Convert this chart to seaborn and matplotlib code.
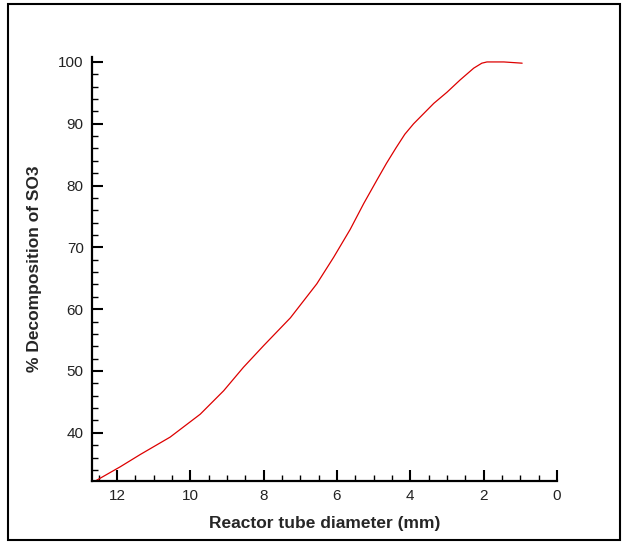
import pandas as pd
import seaborn as sns
import matplotlib.pyplot as plt
from matplotlib.patches import Rectangle
from matplotlib.ticker import MultipleLocator

# values
diameter = [12.59, 11.91, 11.36, 10.55, 9.73, 9.09, 8.55, 8.0, 7.27, 6.55, 6.09,
            5.64, 5.27, 4.91, 4.65, 4.39, 4.15, 3.91, 3.36, 3.0, 2.64, 2.27,
            2.05, 1.91, 1.45, 0.95]
decomposition = [32.2, 34.5, 36.5, 39.3, 43.0, 46.8, 50.6, 54.1, 58.6, 64.1, 68.4,
                 72.9, 77.1, 80.9, 83.6, 86.1, 88.3, 90.0, 93.3, 95.1, 97.1, 99.0,
                 99.8, 100.0, 100.0, 99.8]

df = pd.DataFrame({"diameter": diameter, "decomp": decomposition})

sns.set_style("ticks")
plt.rcParams["font.family"] = ["Liberation Sans", "DejaVu Sans"]

fig = plt.figure(figsize=(6.23, 5.42), dpi=100)
ax = fig.add_axes([92 / 623, 1 - 481 / 542, (557 - 92) / 623, (481 - 57) / 542])

sns.lineplot(data=df, x="diameter", y="decomp", ax=ax, color="#dd0000",
             linewidth=0.9, sort=False)

ax.set_xlim(12.68, 0)
ax.set_ylim(32.2, 100.8)
ax.xaxis.set_major_locator(MultipleLocator(2))
ax.xaxis.set_minor_locator(MultipleLocator(0.5))
ax.yaxis.set_major_locator(MultipleLocator(10))
ax.yaxis.set_minor_locator(MultipleLocator(2))

ax.tick_params(which="major", direction="in", length=8, width=1.5,
               labelsize=11, pad=6, color="black", labelcolor="#222222")
ax.tick_params(which="minor", direction="in", length=4.5, width=1.0, color="black")

for s in ["top", "right"]:
    ax.spines[s].set_visible(False)
for s in ["left", "bottom"]:
    ax.spines[s].set_linewidth(1.6)
    ax.spines[s].set_color("black")

ax.set_xlabel("Reactor tube diameter (mm)", fontsize=12.5, fontweight="bold", labelpad=9)
ax.set_ylabel("% Decomposition of SO3", fontsize=12.5, fontweight="bold", labelpad=12)

fig.patches.append(Rectangle((8 / 623, 1 - 540 / 542), (620 - 8) / 623, (540 - 4) / 542,
                             transform=fig.transFigure, fill=False,
                             edgecolor="black", linewidth=1.5))

fig.savefig("out.png", dpi=100)
